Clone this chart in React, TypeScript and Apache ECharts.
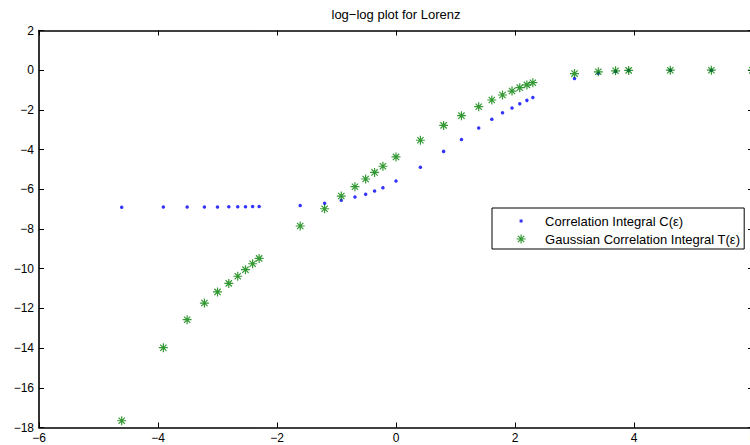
import React, { useEffect, useRef } from 'react';
import * as echarts from 'echarts';

// ---- data ----
const TITLE = 'log\u2212log plot for Lorenz';
const SERIES_NAMES = ['Correlation Integral C(\u03b5)', 'Gaussian Correlation Integral T(\u03b5)'];

// log(epsilon)
const logEps = [
  -4.61, -3.91, -3.51, -3.22, -3.0, -2.81, -2.66, -2.53, -2.41, -2.30,
  -1.61, -1.20, -0.92, -0.69, -0.51, -0.36, -0.22, 0,
  0.41, 0.80, 1.10, 1.39, 1.61, 1.79, 1.95, 2.08, 2.20, 2.30,
  3.00, 3.40, 3.69, 3.91, 4.61, 5.30, 5.99,
];
// log C(epsilon)
const logC = [
  -6.90, -6.89, -6.89, -6.89, -6.89, -6.88, -6.88, -6.88, -6.87, -6.87,
  -6.82, -6.70, -6.55, -6.39, -6.25, -6.09, -5.92, -5.58,
  -4.89, -4.09, -3.49, -2.91, -2.47, -2.14, -1.90, -1.69, -1.52, -1.37,
  -0.42, -0.15, -0.06, -0.02, 0, 0, 0,
];
// log T(epsilon)
const logT = [
  -17.66, -13.98, -12.57, -11.73, -11.17, -10.74, -10.38, -10.05, -9.75, -9.48,
  -7.85, -6.98, -6.34, -5.87, -5.48, -5.15, -4.84, -4.37,
  -3.53, -2.78, -2.29, -1.84, -1.50, -1.25, -1.05, -0.88, -0.74, -0.63,
  -0.17, -0.08, -0.03, -0.01, 0, 0, 0,
];

const X_TICKS = [-6, -4, -2, 0, 2, 4, 6];
const Y_TICKS = [-18, -16, -14, -12, -10, -8, -6, -4, -2, 0, 2];

const STAR = 'path://M5,0L5,10M0,5L10,5M1.5,1.5L8.5,8.5M1.5,8.5L8.5,1.5';
const DOT_ICON = 'path://M0,0M9,9M3,3L6,3L6,6L3,6Z';

export default function App() {
  const ref = useRef<HTMLDivElement>(null);
  useEffect(() => {
    if (!ref.current) return;
    const chart = echarts.init(ref.current, null, { renderer: 'svg' });
    const font = '"Liberation Sans", Arial, Helvetica, sans-serif';
    const minus = (v: number) => String(v).replace('-', '\u2212');
    const xMin = X_TICKS[0];
    const xMax = X_TICKS[X_TICKS.length - 1];
    const xInt = X_TICKS[1] - X_TICKS[0];
    const yMin = Y_TICKS[0];
    const yMax = Y_TICKS[Y_TICKS.length - 1];
    const yInt = Y_TICKS[1] - Y_TICKS[0];

    const axisCommon = {
      type: 'value' as const,
      axisLine: { show: true, onZero: false, lineStyle: { color: '#000', width: 1.6 } },
      axisTick: { show: true, inside: true, length: 5, lineStyle: { color: '#000', width: 1 } },
      splitLine: { show: false },
    };

    chart.setOption({
      animation: false,
      backgroundColor: '#fff',
      title: {
        text: TITLE,
        left: 'center',
        top: 3,
        textStyle: { fontFamily: font, fontSize: 13, fontWeight: 'normal', color: '#000' },
      },
      grid: { left: 39, top: 30.5, right: 39, bottom: 17.5, containLabel: false },
      xAxis: [
        {
          ...axisCommon,
          position: 'bottom',
          min: xMin,
          max: xMax,
          interval: xInt,
          axisLabel: { show: true, color: '#000', fontFamily: font, fontSize: 12, margin: 4, formatter: minus },
        },
        {
          ...axisCommon,
          position: 'top',
          min: xMin,
          max: xMax,
          interval: xInt,
          axisLabel: { show: false },
        },
      ],
      yAxis: [
        {
          ...axisCommon,
          position: 'left',
          min: yMin,
          max: yMax,
          interval: yInt,
          axisLabel: { show: true, color: '#000', fontFamily: font, fontSize: 12, margin: 5, formatter: minus },
        },
        {
          ...axisCommon,
          position: 'right',
          min: yMin,
          max: yMax,
          interval: yInt,
          axisLabel: { show: false },
        },
      ],
      legend: {
        orient: 'vertical',
        left: 492,
        top: 208,
        padding: [6, 4, 3, 24],
        itemWidth: 38,
        itemHeight: 9,
        itemGap: 4,
        borderColor: '#000',
        borderWidth: 1,
        borderRadius: 0,
        backgroundColor: '#fff',
        textStyle: { fontFamily: font, fontSize: 13, color: '#000', lineHeight: 14 },
        data: [
          { name: SERIES_NAMES[0], icon: DOT_ICON, itemStyle: { color: '#0000ff', borderWidth: 0 } },
          { name: SERIES_NAMES[1], icon: STAR, itemStyle: { color: '#008000', borderColor: '#008000', borderWidth: 1.2 } },
        ],
      },
      series: [
        {
          name: SERIES_NAMES[0],
          type: 'scatter',
          xAxisIndex: 0,
          yAxisIndex: 0,
          symbol: 'circle',
          symbolSize: 3.5,
          itemStyle: { color: '#0000ff', borderWidth: 0 },
          data: logEps.map((x, i) => [x, logC[i]]),
        },
        {
          name: SERIES_NAMES[1],
          type: 'scatter',
          xAxisIndex: 0,
          yAxisIndex: 0,
          symbol: STAR,
          symbolSize: 9,
          itemStyle: { color: '#008000', borderColor: '#008000', borderWidth: 1.2 },
          data: logEps.map((x, i) => [x, logT[i]]),
        },
      ],
    });
    return () => chart.dispose();
  }, []);

  return (
    <div
      style={{
        position: 'fixed',
        left: 0,
        top: 0,
        width: 750,
        height: 445,
        overflow: 'hidden',
        background: '#fff',
      }}
    >
      <div ref={ref} style={{ width: 792, height: 445 }} />
    </div>
  );
}
